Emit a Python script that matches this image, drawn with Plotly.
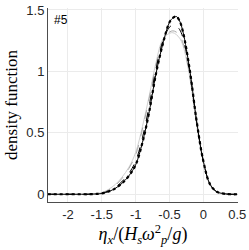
import plotly.graph_objects as go

x = [-2.3, -2.2, -2.1, -2.0, -1.9, -1.8, -1.7, -1.6, -1.5, -1.4, -1.3, -1.2, -1.1, -1.0,
     -0.9, -0.8, -0.7, -0.6, -0.5, -0.45, -0.4, -0.35, -0.3, -0.2, -0.1, 0.0, 0.1, 0.2, 0.3, 0.4, 0.5]

theory = [0, 0, 0, 0, 0, 0, 0, 0.002, 0.006, 0.022, 0.048, 0.09, 0.15, 0.24,
          0.42, 0.67, 0.98, 1.22, 1.40, 1.435, 1.447, 1.41, 1.32, 1.01, 0.60, 0.27, 0.08, 0.02, 0.005, 0, 0]
data_dot = [0, 0, 0, 0, 0, 0, 0, 0.002, 0.006, 0.022, 0.048, 0.09, 0.15, 0.24,
            0.42, 0.67, 0.98, 1.22, 1.40, 1.435, 1.447, 1.41, 1.32, 1.01, 0.60, 0.27, 0.08, 0.02, 0.005, 0, 0]
black_dash = [0, 0, 0, 0, 0, 0, 0, 0.003, 0.008, 0.028, 0.058, 0.105, 0.17, 0.27,
              0.46, 0.72, 1.02, 1.24, 1.36, 1.375, 1.37, 1.34, 1.27, 0.99, 0.59, 0.27, 0.08, 0.02, 0.005, 0, 0]
gray_solid = [0, 0, 0, 0, 0, 0, 0.002, 0.006, 0.014, 0.04, 0.08, 0.14, 0.22, 0.34,
              0.55, 0.80, 1.07, 1.26, 1.31, 1.315, 1.30, 1.27, 1.21, 0.95, 0.57, 0.26, 0.08, 0.02, 0.005, 0, 0]
gray_dash = [0, 0, 0, 0, 0, 0, 0.002, 0.005, 0.012, 0.035, 0.072, 0.13, 0.21, 0.32,
             0.53, 0.78, 1.05, 1.25, 1.32, 1.33, 1.32, 1.29, 1.23, 0.96, 0.58, 0.265, 0.08, 0.02, 0.005, 0, 0]

fig = go.Figure()
fig.add_trace(go.Scatter(x=x, y=gray_solid, mode="lines", line=dict(color="#d0d0d0", width=1, shape="spline")))
fig.add_trace(go.Scatter(x=x, y=gray_dash, mode="lines", line=dict(color="#a8a8a8", width=1, dash="dash", shape="spline")))
fig.add_trace(go.Scatter(x=x, y=black_dash, mode="lines", line=dict(color="#000000", width=1, dash="dash", shape="spline")))
fig.add_trace(go.Scatter(x=x, y=theory, mode="lines", line=dict(color="#000000", width=1, shape="spline")))
fig.add_trace(go.Scatter(x=x, y=data_dot, mode="lines", line=dict(color="#000000", width=2.2, dash="dot", shape="spline")))

fig.add_annotation(x=0.02, y=0.985, xref="paper", yref="paper", text="#5", showarrow=False,
                   xanchor="left", yanchor="top", font=dict(family="Liberation Sans", size=12, color="#000"))

fig.update_layout(
    width=249, height=250, showlegend=False,
    margin=dict(l=48, r=9, t=3, b=48),
    paper_bgcolor="white", plot_bgcolor="white",
    font=dict(family="Liberation Sans", size=13, color="#262626"),
    xaxis=dict(range=[-2.295, 0.512], tickvals=[-2, -1.5, -1, -0.5, 0, 0.5],
               ticktext=["-2", "-1.5", "-1", "-0.5", "0", "0.5"], ticklabeloverflow="allow",
               showgrid=True, gridcolor="#ebebeb", zeroline=False,
               showline=True, linecolor="#4d4d4d", linewidth=1,
               title=dict(text="<i>η</i><sub><i>x</i></sub>/(<i>H</i><sub><i>s</i></sub><i>ω</i><sup>2</sup><sub><i>p</i></sub>/<i>g</i>)",
                          font=dict(family="Liberation Serif", size=18, color="#000"), standoff=2)),
    yaxis=dict(range=[-0.063, 1.516], tickvals=[0, 0.5, 1, 1.5], ticktext=["0", "0.5", "1", "1.5"],
               ticklabeloverflow="allow",
               showgrid=True, gridcolor="#ebebeb", zeroline=False,
               showline=True, linecolor="#4d4d4d", linewidth=1,
               title=dict(text="density function", font=dict(family="Liberation Serif", size=17, color="#000"), standoff=4)),
)
fig.write_html("out.html", config={"displayModeBar": False},
               post_script="document.body.style.margin='0';document.body.style.overflow='hidden';")
